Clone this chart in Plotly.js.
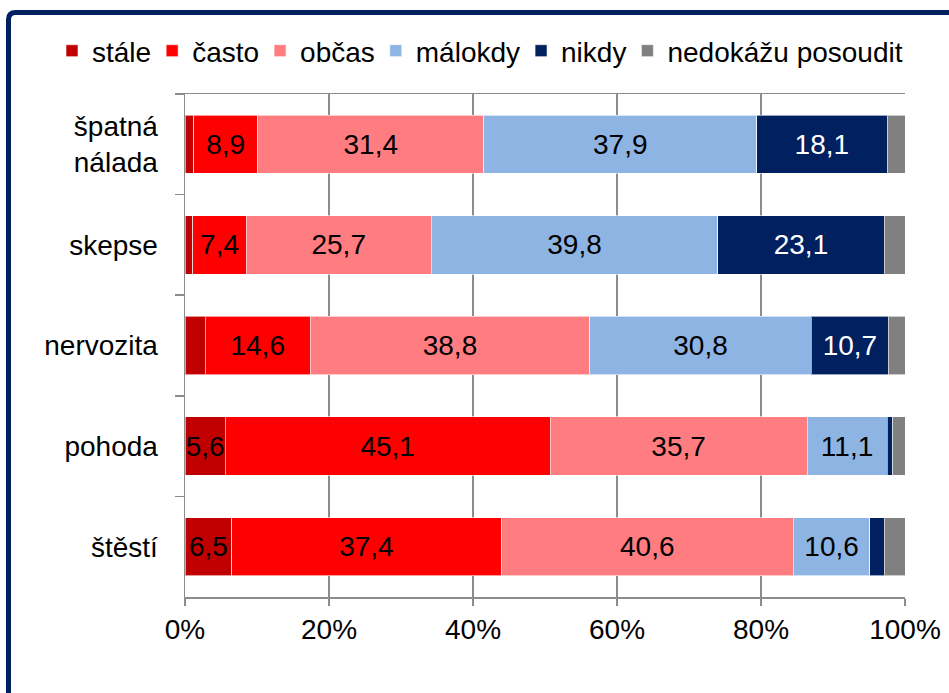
<!DOCTYPE html>
<html>
<head>
<meta charset="utf-8">
<script src="https://cdn.plot.ly/plotly-3.0.1.min.js"></script>
<style>
  html, body { margin: 0; padding: 0; background: #ffffff; }
  #chart { width: 949px; height: 693px; }
</style>
</head>
<body>
<div id="chart"></div>
<script>
// ---- data ----
const categories = ['špatná<br>nálada', 'skepse', 'nervozita', 'pohoda', 'štěstí'];
const seriesNames = ['stále', 'často', 'občas', 'málokdy', 'nikdy', 'nedokážu posoudit'];
const stale    = [1.2, 1.1, 2.8, 5.6, 6.5];
const casto    = [8.9, 7.4, 14.6, 45.1, 37.4];
const obcas    = [31.4, 25.7, 38.8, 35.7, 40.6];
const malokdy  = [37.9, 39.8, 30.8, 11.1, 10.6];
const nikdy    = [18.1, 23.1, 10.7, 0.8, 2.0];
const nedokazu = [2.5, 2.9, 2.3, 1.7, 2.9];
const xTickVals = [0, 20, 40, 60, 80, 100];

// ---- styles ----
const colors = ['#C00000', '#FF0000', '#FF7C80', '#8EB4E3', '#002060', '#808080'];
const labelColors = ['#000000', '#000000', '#000000', '#000000', '#ffffff', '#000000'];
const FONT = 'Liberation Sans, Arial, sans-serif';
const FS = 28;
const GRID = '#8c8c8c';

const allSeries = [stale, casto, obcas, malokdy, nikdy, nedokazu];

function fmt(v) { return v >= 5 ? v.toFixed(1).replace('.', ',') : ''; }

// measure legend text widths to reproduce the reference's tighter item spacing
const ctx = document.createElement('canvas').getContext('2d');
ctx.font = FS + 'px "Liberation Sans", Arial, sans-serif';
function legendW(name, i) {
  if (i === seriesNames.length - 1) return undefined;
  return Math.max(1, ctx.measureText(name).width - 4);
}

const traces = allSeries.map((vals, i) => {
  const t = {
    type: 'bar',
    orientation: 'h',
    name: seriesNames[i],
    y: categories,
    x: vals,
    text: vals.map(fmt),
    textposition: 'inside',
    insidetextanchor: 'middle',
    textangle: 0,
    constraintext: 'none',
    textfont: { family: FONT, size: FS, color: labelColors[i] },
    marker: { color: colors[i], line: { color: 'rgba(255,255,255,0.6)', width: 1 } },
    hoverinfo: 'skip'
  };
  const lw = legendW(seriesNames[i], i);
  if (lw !== undefined) t.legendwidth = lw;
  return t;
});

// frame (top + left navy border) in paper coordinates
const L = 185, R = 905, T = 94, B = 597;
const px2x = p => (p - L) / (R - L);
const py2y = p => (B - p) / (B - T);
const fx = px2x(8.5), fy = py2y(12.5), r = 7;
const framePath = `M ${fx},${py2y(720)} L ${fx},${py2y(12.5 + r)} Q ${fx},${fy} ${px2x(8.5 + r)},${fy} L ${px2x(980)},${fy}`;

const layout = {
  width: 949,
  height: 693,
  margin: { l: L, r: 949 - R, t: T, b: 693 - B },
  paper_bgcolor: '#ffffff',
  plot_bgcolor: '#ffffff',
  barmode: 'stack',
  bargap: 0.42,
  font: { family: FONT, size: FS, color: '#000000' },
  showlegend: true,
  legend: {
    orientation: 'h',
    x: px2x(52),
    xanchor: 'left',
    y: py2y(26),
    yanchor: 'top',
    font: { family: FONT, size: FS, color: '#000000' },
    traceorder: 'normal',
    itemwidth: 30,
    bgcolor: 'rgba(0,0,0,0)'
  },
  xaxis: {
    range: [0, 100],
    tickvals: xTickVals,
    ticktext: xTickVals.map(v => v + '%'),
    ticks: 'outside',
    ticklen: 7,
    tickcolor: GRID,
    tickwidth: 1.5,
    showgrid: true,
    gridcolor: GRID,
    gridwidth: 1.5,
    zeroline: false,
    showline: true,
    mirror: true,
    linecolor: GRID,
    linewidth: 1.5,
    tickfont: { family: FONT, size: FS, color: '#000000' },
    fixedrange: true
  },
  yaxis: {
    type: 'category',
    autorange: 'reversed',
    tickson: 'boundaries',
    ticks: 'outside',
    ticklen: 9,
    tickcolor: GRID,
    tickwidth: 1.5,
    ticklabelstandoff: 20,
    showgrid: false,
    zeroline: false,
    showline: true,
    linecolor: GRID,
    linewidth: 1.5,
    tickfont: { family: FONT, size: FS, color: '#000000' },
    fixedrange: true
  },
  shapes: [{
    type: 'path',
    xref: 'paper', yref: 'paper',
    path: framePath,
    line: { color: '#002060', width: 5 },
    layer: 'above'
  }]
};

Plotly.newPlot('chart', traces, layout, { displayModeBar: false, staticPlot: true });
</script>
</body>
</html>
